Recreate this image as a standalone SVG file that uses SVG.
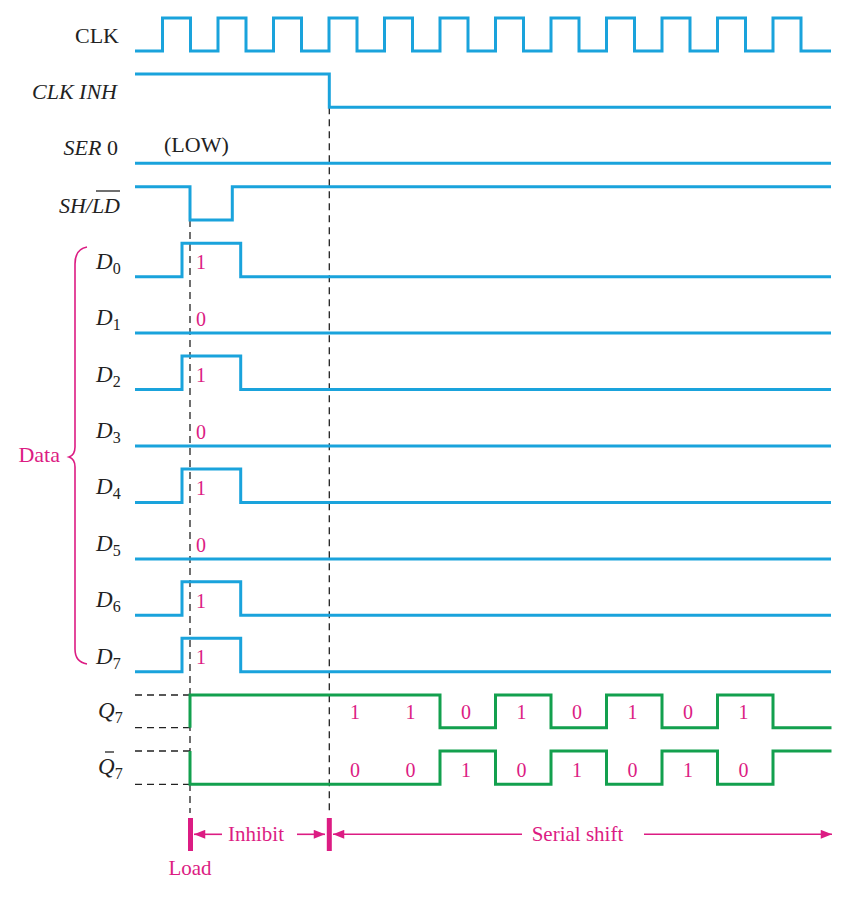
<svg xmlns="http://www.w3.org/2000/svg" width="843" height="898" viewBox="0 0 843 898">
<style>
  .sig { fill: none; stroke: #1AA3DC; stroke-width: 3; stroke-linejoin: miter; }
  .out { fill: none; stroke: #13A04E; stroke-width: 3; stroke-linejoin: miter; }
  .dash { fill: none; stroke: #222; stroke-width: 1.3; stroke-dasharray: 7 5; }
  .lbl { font-family: "Liberation Serif", "Times New Roman", serif; font-size: 22px; fill: #222; }
  .dl { font-size: 23px; }
  .it { font-style: italic; }
  .sub { font-style: normal; font-size: 16px; }
  .bit { font-family: "Liberation Serif", "Times New Roman", serif; font-size: 20px; fill: #DC1C83; }
  .pk { font-family: "Liberation Serif", "Times New Roman", serif; font-size: 21px; fill: #DC1C83; }
  .arr { fill: none; stroke: #DC1C83; stroke-width: 1.6; marker-end: url(#ah); }
  .bar { fill: #DC1C83; }
</style>
<defs>
  <marker id="ah" viewBox="0 0 10 8" refX="10" refY="4" markerWidth="12" markerHeight="9" markerUnits="userSpaceOnUse" orient="auto">
    <path d="M0,0 L10,4 L0,8 Z" fill="#DC1C83"/>
  </marker>
</defs>
<rect width="843" height="898" fill="#fff"/>

<g id="connectors">
  <path class="dash" d="M190,220 V813"/>
  <path class="dash" d="M329.3,107.3 V813"/>
  <path class="dash" d="M135,695 H190 M135,727.7 H190 M135,751 H190 M135,784.3 H190"/>
</g>

<g id="clk">
  <text class="lbl" x="119" y="43" text-anchor="end">CLK</text>
  <path class="sig" d="M135,51 H162.5 V18 H190.5 V51 H218 V18 H246 V51 H273.5 V18 H301.5 V51 H329 V18 H357 V51 H384.5 V18 H412.5 V51 H440 V18 H468 V51 H495.5 V18 H523.5 V51 H551 V18 H579 V51 H606.5 V18 H634.5 V51 H662 V18 H690 V51 H717.5 V18 H745.5 V51 H773 V18 H801 V51 H831"/>
</g>

<g id="clkinh">
  <text class="lbl it" x="117" y="99" text-anchor="end">CLK INH</text>
  <path class="sig" d="M135,74 H329.3 V107.3 H831"/>
</g>

<g id="ser">
  <text class="lbl" x="118" y="155" text-anchor="end"><tspan class="it">SER</tspan> 0</text>
  <text class="lbl" x="164" y="152">(LOW)</text>
  <path class="sig" d="M135,163.3 H831"/>
</g>

<g id="shld">
  <text class="lbl it" x="120" y="213.3" text-anchor="end">SH/LD</text>
  <path d="M96,191 H120" stroke="#222" stroke-width="1.3"/>
  <path class="sig" d="M135,186.7 H190 V220 H232.3 V186.7 H831"/>
</g>

<g id="data-brace">
  <path d="M87,247 Q75,249 75,264 L75,447 Q75,455 69,457 Q75,459 75,467 L75,649 Q75,662 87,664" fill="none" stroke="#DC1C83" stroke-width="1.6"/>
  <text class="pk" x="60" y="462.3" text-anchor="end" style="font-size:22px">Data</text>
</g>

<g id="d0">
  <text class="lbl dl it" x="96" y="268.5">D<tspan class="sub" dy="5">0</tspan></text>
  <path class="sig" d="M135,276.7 H182 V243.2 H240.7 V276.7 H831"/>
  <text class="bit" x="196" y="269.3">1</text>
</g>
<g id="d1">
  <text class="lbl dl it" x="96" y="325.1">D<tspan class="sub" dy="5">1</tspan></text>
  <path class="sig" d="M135,333.1 H831"/>
  <text class="bit" x="196" y="326.2">0</text>
</g>
<g id="d2">
  <text class="lbl dl it" x="96" y="381.6">D<tspan class="sub" dy="5">2</tspan></text>
  <path class="sig" d="M135,389.6 H182 V356.1 H240.7 V389.6 H831"/>
  <text class="bit" x="196" y="382.2">1</text>
</g>
<g id="d3">
  <text class="lbl dl it" x="96" y="438">D<tspan class="sub" dy="5">3</tspan></text>
  <path class="sig" d="M135,446 H831"/>
  <text class="bit" x="196" y="438.6">0</text>
</g>
<g id="d4">
  <text class="lbl dl it" x="96" y="494.4">D<tspan class="sub" dy="5">4</tspan></text>
  <path class="sig" d="M135,502.4 H182 V468.9 H240.7 V502.4 H831"/>
  <text class="bit" x="196" y="495">1</text>
</g>
<g id="d5">
  <text class="lbl dl it" x="96" y="550.9">D<tspan class="sub" dy="5">5</tspan></text>
  <path class="sig" d="M135,558.9 H831"/>
  <text class="bit" x="196" y="551.5">0</text>
</g>
<g id="d6">
  <text class="lbl dl it" x="96" y="607.3">D<tspan class="sub" dy="5">6</tspan></text>
  <path class="sig" d="M135,615.3 H182 V581.8 H240.7 V615.3 H831"/>
  <text class="bit" x="196" y="607.9">1</text>
</g>
<g id="d7">
  <text class="lbl dl it" x="96" y="663.7">D<tspan class="sub" dy="5">7</tspan></text>
  <path class="sig" d="M135,671.7 H182 V638.2 H240.7 V671.7 H831"/>
  <text class="bit" x="196" y="664.3">1</text>
</g>

<g id="q7">
  <text class="lbl dl it" x="98" y="718.3">Q<tspan class="sub" dy="5">7</tspan></text>
  <path class="out" d="M190,727.7 V695 H440 V727.7 H495.5 V695 H551 V727.7 H606.5 V695 H662 V727.7 H717.5 V695 H773 V727.7 H831.5"/>
  <g class="bit" text-anchor="middle">
    <text x="355" y="719.3">1</text>
    <text x="410.5" y="719.3">1</text>
    <text x="466" y="719.3">0</text>
    <text x="521.5" y="719.3">1</text>
    <text x="577" y="719.3">0</text>
    <text x="632.5" y="719.3">1</text>
    <text x="688" y="719.3">0</text>
    <text x="743.5" y="719.3">1</text>
  </g>
</g>

<g id="q7bar">
  <text class="lbl dl it" x="98" y="774">Q<tspan class="sub" dy="5">7</tspan></text>
  <path d="M105,752 H114" stroke="#222" stroke-width="1.3"/>
  <path class="out" d="M190,751 V784.3 H440 V751 H495.5 V784.3 H551 V751 H606.5 V784.3 H662 V751 H717.5 V784.3 H773 V751 H831.5"/>
  <g class="bit" text-anchor="middle">
    <text x="355" y="776.7">0</text>
    <text x="410.5" y="776.7">0</text>
    <text x="466" y="776.7">1</text>
    <text x="521.5" y="776.7">0</text>
    <text x="577" y="776.7">1</text>
    <text x="632.5" y="776.7">0</text>
    <text x="688" y="776.7">1</text>
    <text x="743.5" y="776.7">0</text>
  </g>
</g>

<g id="phases">
  <rect class="bar" x="188" y="818" width="5" height="33"/>
  <rect class="bar" x="326.8" y="818" width="5" height="33"/>
  <path class="arr" d="M222,834.3 H194"/>
  <text class="pk" x="228" y="840.7">Inhibit</text>
  <path class="arr" d="M297,834.3 H325"/>
  <path class="arr" d="M522,834.3 H333"/>
  <text class="pk" x="531.7" y="840.7">Serial shift</text>
  <path class="arr" d="M644,834.3 H832"/>
  <text class="pk" x="190" y="875" text-anchor="middle">Load</text>
</g>
</svg>
